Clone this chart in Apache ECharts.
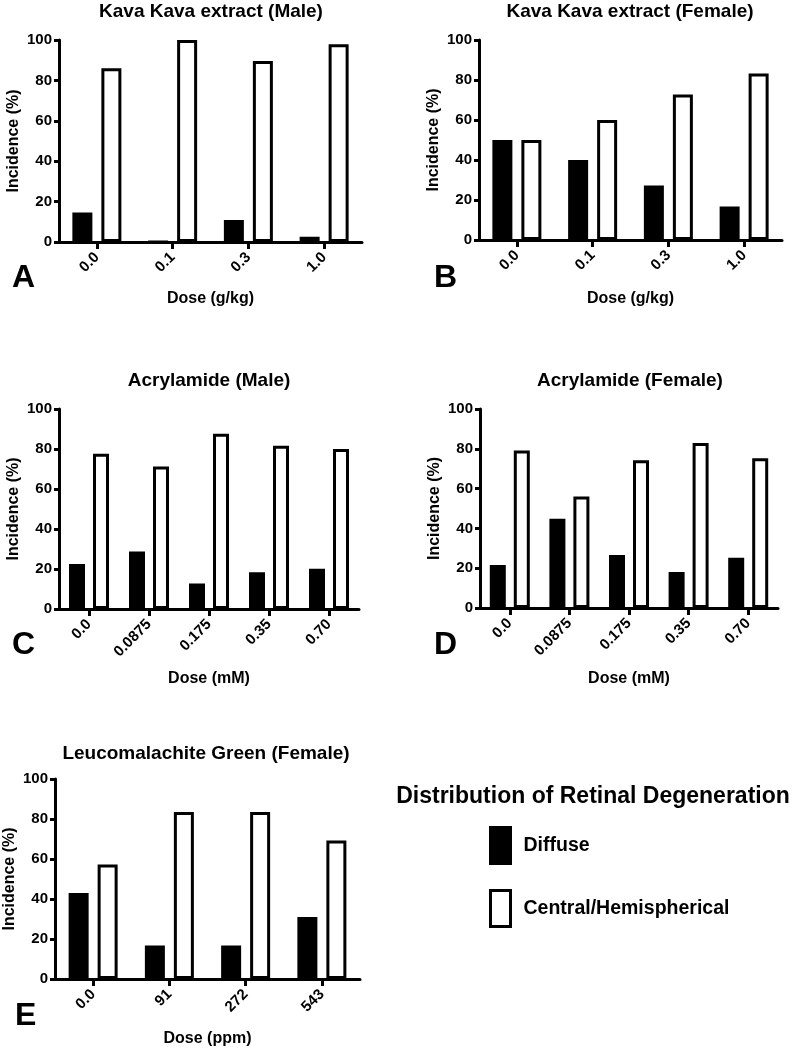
<!DOCTYPE html>
<html>
<head>
<meta charset="utf-8">
<script src="https://cdn.jsdelivr.net/npm/echarts@6/dist/echarts.min.js"></script>
<style>
html,body{margin:0;padding:0;background:#fff;}
#chart{width:797px;height:1050px;}
</style>
</head>
<body>
<div id="chart"></div>
<script>
// ---- data ----
var kavaDoses = ['0.0', '0.1', '0.3', '1.0'];
var kavaMaleDiffuse = [14.6, 0, 10.9, 2.6];
var kavaMaleCentral = [86, 100, 89.6, 97.9];
var kavaFemaleDiffuse = [50, 40, 27.3, 16.7];
var kavaFemaleCentral = [50, 60, 72.7, 83.3];

var acrylDoses = ['0.0', '0.0875', '0.175', '0.35', '0.70'];
var acrylMaleDiffuse = [22.5, 28.8, 12.8, 18.4, 20.1];
var acrylMaleCentral = [77.6, 71.3, 87.6, 81.6, 80.0];
var acrylFemaleDiffuse = [21.6, 44.9, 26.6, 18.1, 25.3];
var acrylFemaleCentral = [79.2, 56.0, 74.2, 82.9, 75.2];

var lgDoses = ['0.0', '91', '272', '543'];
var lgFemaleDiffuse = [43.0, 16.8, 16.8, 31.0];
var lgFemaleCentral = [57.2, 83.5, 83.5, 69.3];

var yTicks = [0, 20, 40, 60, 80, 100];

var panelTitles = ['Kava Kava extract (Male)', 'Kava Kava extract (Female)', 'Acrylamide (Male)', 'Acrylamide (Female)', 'Leucomalachite Green (Female)'];
var panelLetters = ['A', 'B', 'C', 'D', 'E'];
var xNames = ['Dose (g/kg)', 'Dose (g/kg)', 'Dose (mM)', 'Dose (mM)', 'Dose (ppm)'];
var seriesNames = ['Diffuse', 'Central/Hemispherical'];
var legendTitle = 'Distribution of Retinal Degeneration';

// ---- layout ----
var FONT = 'Liberation Sans, Arial, Helvetica, sans-serif';
var panels = [
  {cats: kavaDoses, d: kavaMaleDiffuse, c: kavaMaleCentral, grid: {left: 59, top: 40, width: 303, height: 202}, bw: 20, gap: '45%', nameGap: 49, title: [211, 2], letter: [12, 262]},
  {cats: kavaDoses, d: kavaFemaleDiffuse, c: kavaFemaleCentral, grid: {left: 479, top: 40, width: 303, height: 200}, bw: 20, gap: '45%', nameGap: 51, title: [630, 2], letter: [434, 262]},
  {cats: acrylDoses, d: acrylMaleDiffuse, c: acrylMaleCentral, grid: {left: 59, top: 409, width: 300, height: 200}, bw: 16, gap: '50%', nameGap: 62, title: [209, 371], letter: [12, 629]},
  {cats: acrylDoses, d: acrylFemaleDiffuse, c: acrylFemaleCentral, grid: {left: 480, top: 409, width: 298, height: 199}, bw: 16, gap: '50%', nameGap: 63, title: [630, 371], letter: [434, 629]},
  {cats: lgDoses, d: lgFemaleDiffuse, c: lgFemaleCentral, grid: {left: 55, top: 779, width: 305, height: 200}, bw: 20, gap: '45%', nameGap: 52, title: [206, 744], letter: [15, 1000]}
];

var grids = [], xAxes = [], yAxes = [], series = [], titles = [];
panels.forEach(function (p, i) {
  grids.push(p.grid);
  xAxes.push({
    type: 'category', gridIndex: i, data: p.cats,
    name: xNames[i], nameLocation: 'middle', nameGap: p.nameGap,
    nameTextStyle: {fontSize: 16, fontWeight: 'bold', color: '#000', fontFamily: FONT},
    axisLine: {show: true, lineStyle: {color: '#000', width: 3}},
    axisTick: {show: true, alignWithLabel: true, length: 7, lineStyle: {color: '#000', width: 3}},
    axisLabel: {rotate: 45, margin: 13, fontSize: 15, fontWeight: 'bold', color: '#000', fontFamily: FONT, interval: 0},
    splitLine: {show: false}
  });
  yAxes.push({
    type: 'value', gridIndex: i, min: yTicks[0], max: yTicks[yTicks.length - 1], interval: yTicks[1] - yTicks[0],
    name: 'Incidence (%)', nameLocation: 'middle', nameGap: 37, nameRotate: 90,
    nameTextStyle: {fontSize: 16, fontWeight: 'bold', color: '#000', fontFamily: FONT},
    axisLine: {show: true, lineStyle: {color: '#000', width: 3}},
    axisTick: {show: true, length: 5, lineStyle: {color: '#000', width: 3}},
    axisLabel: {margin: 7, fontSize: 15, fontWeight: 'bold', color: '#000', fontFamily: FONT},
    splitLine: {show: false}
  });
  series.push({
    name: seriesNames[0], type: 'bar', xAxisIndex: i, yAxisIndex: i, data: p.d,
    barWidth: p.bw, barGap: p.gap,
    itemStyle: {color: '#000', borderColor: '#000', borderWidth: 3}
  });
  series.push({
    name: seriesNames[1], type: 'bar', xAxisIndex: i, yAxisIndex: i, data: p.c,
    barWidth: p.bw, barGap: p.gap,
    itemStyle: {color: '#fff', borderColor: '#000', borderWidth: 3}
  });
  titles.push({
    text: panelTitles[i], left: p.title[0], top: p.title[1], textAlign: 'center', padding: 0,
    textStyle: {fontSize: 19, fontWeight: 'bold', color: '#000', fontFamily: FONT}
  });
  titles.push({
    text: panelLetters[i], left: p.letter[0], top: p.letter[1], padding: 0,
    textStyle: {fontSize: 32, fontWeight: 'bold', color: '#000', fontFamily: FONT}
  });
});
titles.push({
  text: legendTitle, left: 593, top: 785, textAlign: 'center', padding: 0,
  textStyle: {fontSize: 23, fontWeight: 'bold', color: '#000', fontFamily: FONT}
});

var chart = echarts.init(document.getElementById('chart'), null, {renderer: 'canvas'});
chart.setOption({
  animation: false,
  backgroundColor: '#fff',
  title: titles,
  legend: {
    orient: 'vertical', left: 489, top: 826, padding: 0,
    itemWidth: 20, itemHeight: 36, itemGap: 24, icon: 'rect', selectedMode: false,
    data: seriesNames,
    itemStyle: {borderColor: '#000', borderWidth: 3},
    textStyle: {fontSize: 19.5, fontWeight: 'bold', color: '#000', fontFamily: FONT, padding: [0, 0, 0, 8]}
  },
  tooltip: {show: false},
  grid: grids,
  xAxis: xAxes,
  yAxis: yAxes,
  series: series
});
</script>
</body>
</html>
